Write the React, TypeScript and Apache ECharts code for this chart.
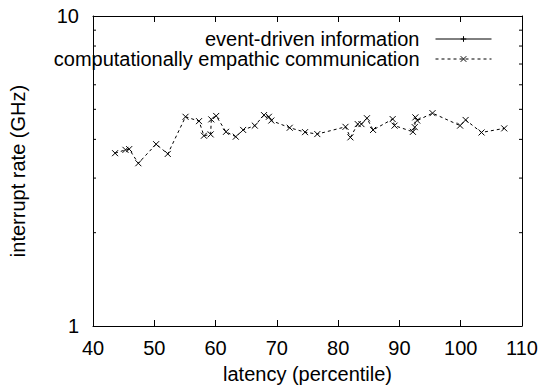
import React, { useEffect, useRef } from "react";
import * as echarts from "echarts";

const seriesNames = ["event-driven information", "computationally empathic communication"];
const xTicksMin = 40;
const xTicksMax = 110;
const xInterval = 10;
const yMin = 1;
const yMax = 10;
const minorYTicks = [2, 3, 4, 5, 6, 7, 8, 9];

const eventDrivenPoints: number[][] = [];

const latencyValues = [
  43.6, 45.3, 45.9, 47.4, 50.3, 52.2, 55.1, 57.3, 58.1, 59.2, 59.3, 60.1, 61.7,
  63.3, 64.5, 66.4, 67.9, 68.7, 69.1, 72.1, 74.6, 76.6, 81.2, 82.0, 83.2, 83.8,
  84.7, 85.7, 88.9, 89.2, 92.2, 92.5, 92.6, 92.9, 95.4, 99.9, 100.8, 103.4, 107.1,
];
const rateValues = [
  3.61, 3.7, 3.72, 3.35, 3.86, 3.59, 4.73, 4.58, 4.11, 4.15, 4.64, 4.76, 4.23,
  4.08, 4.29, 4.43, 4.79, 4.73, 4.6, 4.36, 4.22, 4.16, 4.39, 4.06, 4.48, 4.48,
  4.68, 4.29, 4.65, 4.43, 4.23, 4.38, 4.71, 4.6, 4.86, 4.43, 4.62, 4.21, 4.34,
];

const FONT = "'Liberation Sans', Arial, Helvetica, sans-serif";
const FS = 20;

export default function App() {
  const ref = useRef<HTMLDivElement>(null);
  useEffect(() => {
    document.body.style.margin = "0";
    if (!ref.current) return;
    const chart = echarts.init(ref.current, undefined, { renderer: "svg" });
    const axisLine = { show: true, lineStyle: { color: "#000", width: 1 } };
    const commonX = {
      type: "value" as const,
      min: xTicksMin,
      max: xTicksMax,
      interval: xInterval,
      axisLine,
      splitLine: { show: false },
      axisTick: { show: true, inside: true, length: 6, lineStyle: { color: "#000" } },
    };
    const commonY = {
      type: "log" as const,
      logBase: 10,
      min: yMin,
      max: yMax,
      axisLine,
      splitLine: { show: false },
      axisTick: { show: true, inside: true, length: 6, lineStyle: { color: "#000" } },
    };
    chart.setOption({
      animation: false,
      backgroundColor: "#fff",
      textStyle: { fontFamily: FONT },
      grid: { left: 92, right: 20, top: 16, bottom: 66, containLabel: false },
      legend: {
        data: seriesNames,
        orient: "vertical",
        right: 45,
        top: 24,
        align: "right",
        itemWidth: 56,
        itemHeight: 7,
        itemGap: 0,
        lineStyle: { width: 1 },
        itemStyle: { borderWidth: 1 },
        textStyle: {
          fontFamily: FONT,
          fontSize: FS,
          color: "#000",
          lineHeight: 19,
          padding: [0, 11, 0, 0],
        },
      },
      xAxis: [
        {
          ...commonX,
          position: "bottom",
          name: "latency (percentile)",
          nameLocation: "middle",
          nameGap: 38,
          nameTextStyle: { fontFamily: FONT, fontSize: FS, color: "#000" },
          axisLabel: { fontFamily: FONT, fontSize: FS, color: "#000", margin: 12 },
        },
        { ...commonX, position: "top", axisLabel: { show: false } },
      ],
      yAxis: [
        {
          ...commonY,
          position: "left",
          name: "interrupt rate (GHz)",
          nameLocation: "middle",
          nameGap: 65,
          nameTextStyle: { fontFamily: FONT, fontSize: FS, color: "#000" },
          axisLabel: { fontFamily: FONT, fontSize: FS, color: "#000", margin: 14 },
        },
        { ...commonY, position: "right", axisLabel: { show: false } },
      ],
      series: [
        {
          name: seriesNames[0],
          type: "line",
          data: eventDrivenPoints,
          symbol: "path://M5,0L5,10M0,5L10,5",
          symbolSize: 7,
          lineStyle: { color: "#000", width: 1, type: "solid" },
          itemStyle: { color: "#000", borderColor: "#000", borderWidth: 1 },
        },
        {
          name: seriesNames[1],
          type: "line",
          data: latencyValues.map((x, i) => [x, rateValues[i]]),
          symbol: "path://M0,0L10,10M10,0L0,10",
          symbolSize: 6,
          showAllSymbol: true,
          lineStyle: { color: "#000", width: 1, type: [3, 3] },
          itemStyle: { color: "#000", borderColor: "#000", borderWidth: 1 },
        },
        {
          type: "custom",
          silent: true,
          clip: false,
          xAxisIndex: 0,
          yAxisIndex: 0,
          data: minorYTicks.map((v) => [xTicksMin, v]),
          renderItem: (params: any, api: any) => {
            const y = api.coord([xTicksMin, api.value(1)])[1];
            const cs = params.coordSys;
            const x0 = cs.x;
            const x1 = cs.x + cs.width;
            return {
              type: "group",
              children: [
                { type: "line", shape: { x1: x0, y1: y, x2: x0 + 3, y2: y }, style: { stroke: "#000", lineWidth: 1 } },
                { type: "line", shape: { x1: x1, y1: y, x2: x1 - 3, y2: y }, style: { stroke: "#000", lineWidth: 1 } },
              ],
            };
          },
        },
      ],
    });
    return () => chart.dispose();
  }, []);
  return <div ref={ref} style={{ width: 542, height: 392 }} />;
}
